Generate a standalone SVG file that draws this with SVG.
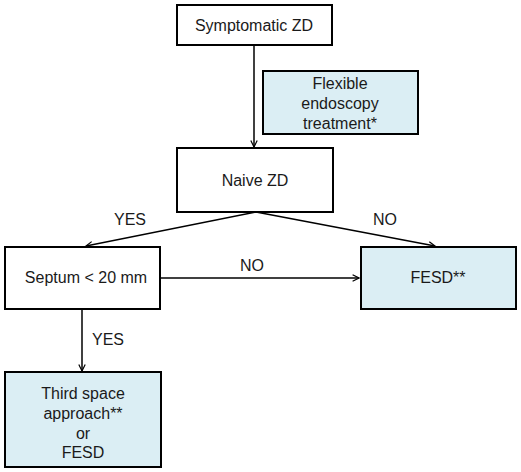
<svg xmlns="http://www.w3.org/2000/svg" width="521" height="472" viewBox="0 0 521 472">
<defs>
<style>
.box{fill:#fff;stroke:#000;stroke-width:2}
.blue{fill:#dbeef4;stroke:#000;stroke-width:2}
text{font-family:"Liberation Sans",Arial,sans-serif;font-size:16px;fill:#1a1a1a;text-anchor:middle}
.c{fill:none;stroke:#000;stroke-width:1.5}
</style>
<marker id="ah" viewBox="0 0 10 10" refX="9" refY="5" markerWidth="8" markerHeight="8" orient="auto" markerUnits="userSpaceOnUse">
<path d="M1,1 L9,5 L1,9" fill="none" stroke="#000" stroke-width="1.5"/>
</marker>
</defs>
<rect width="521" height="472" fill="#fff"/>
<g id="connectors">
<line class="c" x1="254" y1="45" x2="254" y2="147" marker-end="url(#ah)"/>
<line class="c" x1="256" y1="212" x2="86" y2="246" marker-end="url(#ah)"/>
<line class="c" x1="256" y1="212" x2="435" y2="246" marker-end="url(#ah)"/>
<line class="c" x1="161" y1="278" x2="359" y2="278" marker-end="url(#ah)"/>
<line class="c" x1="82" y1="309" x2="82" y2="371" marker-end="url(#ah)"/>
<text x="130" y="225">YES</text>
<text x="385" y="225">NO</text>
<text x="252" y="271">NO</text>
<text x="108" y="345">YES</text>
</g>
<g id="symptomatic">
<rect class="box" x="177" y="5" width="155" height="40"/>
<text x="254" y="31">Symptomatic ZD</text>
</g>
<g id="flexible">
<rect class="blue" x="263" y="71" width="155" height="63"/>
<text x="340" y="89">Flexible</text>
<text x="340" y="109">endoscopy</text>
<text x="340" y="129">treatment*</text>
</g>
<g id="naive">
<rect class="box" x="177" y="148" width="156" height="64"/>
<text x="255" y="186">Naive ZD</text>
</g>
<g id="septum">
<rect class="box" x="5" y="247" width="155" height="62"/>
<text x="86" y="283">Septum &lt; 20 mm</text>
</g>
<g id="fesd">
<rect class="blue" x="361" y="247" width="155" height="62"/>
<text x="438" y="283">FESD**</text>
</g>
<g id="third">
<rect class="blue" x="5" y="372" width="156" height="95"/>
<text x="83" y="399">Third space</text>
<text x="83" y="419">approach**</text>
<text x="83" y="439">or</text>
<text x="83" y="458">FESD</text>
</g>
</svg>
